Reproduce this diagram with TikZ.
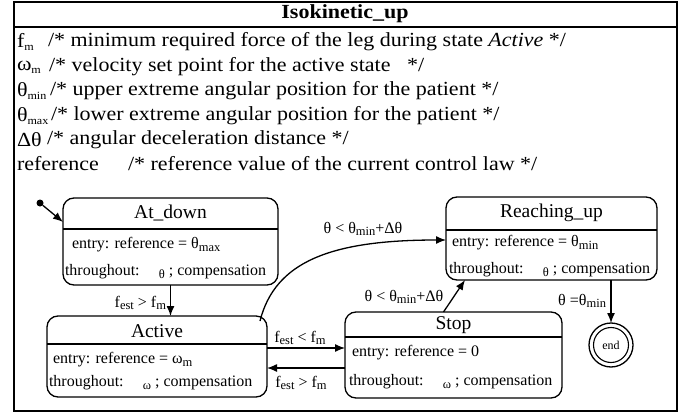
\documentclass[tikz,border=0pt]{standalone}
\usepackage{fontspec}
\usepackage{graphicx}
\setmainfont{Liberation Serif}
\usetikzlibrary{arrows.meta,calc}
\newcommand{\sbs}[1]{\raisebox{-0.3ex}{\fontsize{12.5}{12.5}\selectfont #1}}
\newcommand{\dsbs}[1]{\raisebox{-0.3ex}{\fontsize{11}{11}\selectfont #1}}
\newcommand{\widetxt}[1]{\scalebox{1.1}[1]{#1}}
\begin{document}
\begin{tikzpicture}[x=1pt,y=-1pt,
  every node/.style={inner sep=0pt, outer sep=0pt},
  decl/.style={font=\fontsize{20}{20}\selectfont, anchor=west},
  txt/.style={font=\fontsize{16}{16}\selectfont, anchor=west},
  lbl/.style={font=\fontsize{16}{16}\selectfont},
  stitle/.style={font=\fontsize{19.5}{19.5}\selectfont},
  statebox/.style={draw, line width=1.3pt, rounded corners=11pt},
  divider/.style={line width=1.3pt},
  tr/.style={line width=1.3pt, -{Latex[length=10pt,width=8pt]}},
  frame/.style={line width=2pt}
]
\useasboundingbox (0,0) rectangle (690,414);
% outer frame
\node[draw, frame, minimum width=663pt, minimum height=409pt] (frame) at (345,206.5) {};
\draw[frame] (frame.west |- 0,27) -- (frame.east |- 0,27);
\node[font=\fontsize{20}{20}\selectfont\bfseries] (title) at (345,14) {\widetxt{Isokinetic\_up}};

% declarations
\node[decl] (v1) at (17,42) {\widetxt{f\dsbs{m}}};
\node[decl] (c1) at (48,42) {\widetxt{/* minimum required force of the leg during\ state \textit{Active} */}};
\node[decl] (v2) at (17,67) {\widetxt{ω\dsbs{m}}};
\node[decl] (c2) at (49,67) {\widetxt{/* velocity set point for the active state \ \ */}};
\node[decl] (v3) at (17,91) {\widetxt{θ\dsbs{min}}};
\node[decl] (c3) at (50,91) {\widetxt{/* upper extreme angular position for the patient */}};
\node[decl] (v4) at (17,116) {\widetxt{θ\dsbs{max}}};
\node[decl] (c4) at (51,116) {\widetxt{/* lower extreme angular position for the patient */}};
\node[decl] (v5) at (17,140) {\widetxt{Δθ}};
\node[decl] (c5) at (47,140) {\widetxt{/* angular deceleration distance */}};
\node[decl] (v6) at (17,164) {\widetxt{reference}};
\node[decl] (c6) at (128,164) {\widetxt{/* reference value of the current control law */}};

% states
\node[statebox, minimum width=215pt, minimum height=87pt] (atdown) at (170.5,241.5) {};
\draw[divider] (atdown.west |- 0,229) -- (atdown.east |- 0,229);
\node[stitle] (atdownT) at (170.5,213) {At\_down};
\node[txt] (atdownE) at (72,245) {entry: reference = θ\sbs{max}};
\node[txt] (atdownH) at (65,272) {throughout:\hspace{1.2em}\sbs{θ} ; compensation};

\node[statebox, minimum width=220pt, minimum height=81pt] (active) at (157,356.5) {};
\draw[divider] (active.west |- 0,344) -- (active.east |- 0,344);
\node[stitle] (activeT) at (157,331) {Active};
\node[txt] (activeE) at (53,360) {entry: reference = ω\sbs{m}};
\node[txt] (activeH) at (49,383) {throughout:\hspace{1.2em}\sbs{ω} ; compensation};

\node[statebox, minimum width=217pt, minimum height=86pt] (stop) at (453.5,355) {};
\draw[divider] (stop.west |- 0,337) -- (stop.east |- 0,337);
\node[stitle] (stopT) at (453.5,325) {Stop};
\node[txt] (stopE) at (352,353) {entry: reference = 0};
\node[txt] (stopH) at (349,382) {throughout:\hspace{1.2em}\sbs{ω} ; compensation};

\node[statebox, minimum width=211pt, minimum height=83pt] (reach) at (551.5,238.5) {};
\draw[divider, line width=1.6pt] (reach.west |- 0,230) -- (reach.east |- 0,230);
\node[stitle] (reachT) at (551.5,213) {Reaching\_up};
\node[txt] (reachE) at (452,243) {entry: reference = θ\sbs{min}};
\node[txt] (reachH) at (449,270) {throughout:\hspace{1.2em}\sbs{θ} ; compensation};

% end state
\node[draw, circle, line width=1.3pt, minimum size=44pt] (endO) at (611,345) {};
\node[draw, circle, line width=1.1pt, minimum size=35pt, font=\fontsize{12}{12}\selectfont] (endI) at (611,345) {end};

% initial
\node[fill, circle, minimum size=7pt] (init) at (40,203) {};
\coordinate (atdownIn) at ($(atdown.north west)+(0,24)$);
\draw[tr] (init) -- (atdownIn);

% transitions
\draw[tr] (atdown.south) -- (atdown.south |- active.north);
\node[lbl, anchor=east] (l1) at (166,303) {f\sbs{est} > f\sbs{m}};

\draw[tr] ([yshift=8.5pt]active.east) -- ([yshift=8.5pt]active.east -| stop.west);
\node[lbl] (l2) at (300,338) {f\sbs{est} < f\sbs{m}};
\draw[tr] ([yshift=-11.5pt]active.east -| stop.west) -- ([yshift=-11.5pt]active.east);
\node[lbl] (l3) at (301,383) {f\sbs{est} > f\sbs{m}};

\coordinate (curveS) at (260,321);
\draw[tr] (curveS) .. controls (275,262) and (330,240) .. ([yshift=-1.5pt]reach.west);
\node[lbl] (l4) at (363,229) {θ < θ\sbs{min}+Δθ};

\draw[tr] ([xshift=-10pt]stop.north) -- ([xshift=-86.5pt]reach.south);
\node[lbl] (l5) at (404,297) {θ < θ\sbs{min}+Δθ};

\draw[tr] (reach.south -| endO.north) -- (endO.north);
\node[lbl, anchor=east] (l6) at (606,301) {θ =θ\sbs{min}};
\end{tikzpicture}
\end{document}
